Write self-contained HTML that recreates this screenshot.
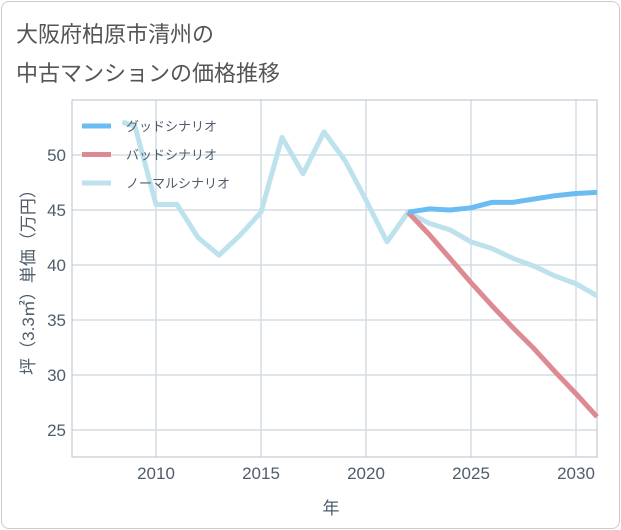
<!DOCTYPE html>
<html><head><meta charset="utf-8"><style>
body{margin:0;background:#fff}
#wrap{position:relative;width:621px;height:530px;overflow:hidden;font-family:"Liberation Sans","Noto Sans CJK JP",sans-serif}
#frame{position:absolute;left:1px;top:1px;width:617px;height:526px;border:1px solid #ccc;border-radius:8px}
.title{position:absolute;left:16px;font-size:22px;color:#555}
</style></head><body>
<div id="wrap">
<div id="frame"></div>
<div class="title" style="top:17px">大阪府柏原市清州の</div>
<div class="title" style="top:56px">中古マンションの価格推移</div>
<svg id="c" width="621" height="530" style="position:absolute;left:0;top:0"></svg>
</div>
<script>
const xTicks=[2010,2015,2020,2025,2030];
const yTicks=[25,30,35,40,45,50];
const normalYears=[2008.4,2009,2010,2011,2012,2013,2014,2015,2016,2017,2018,2019,2020,2021,2022,2023,2024,2025,2026,2027,2028,2029,2030,2031];
const normalVals=[53.0,52.6,45.5,45.5,42.5,40.9,42.7,44.8,51.6,48.3,52.1,49.5,45.9,42.1,44.8,43.8,43.2,42.1,41.5,40.6,39.9,39.0,38.3,37.2];
const futureYears=[2022,2023,2024,2025,2026,2027,2028,2029,2030,2031];
const goodVals=[44.8,45.1,45.0,45.2,45.7,45.7,46.0,46.3,46.5,46.6];
const badVals=[44.8,42.8,40.6,38.4,36.3,34.3,32.4,30.3,28.3,26.2];
const seriesNames=["グッドシナリオ","バッドシナリオ","ノーマルシナリオ"];
const colors=["#6bbcf2","#de8a92","#bde2ee"];
const L=72,R=597,T=100,B=457,X0=2006,X1=2031,Y0=22.55,Y1=55;
const xs=v=>L+(v-X0)/(X1-X0)*(R-L);
const ys=v=>B-(v-Y0)/(Y1-Y0)*(B-T);
const svg=document.getElementById('c');const NS='http://www.w3.org/2000/svg';
function mk(t,a,p){const e=document.createElementNS(NS,t);for(const k in a)e.setAttribute(k,a[k]);(p||svg).appendChild(e);return e;}
const grid=mk('g',{});


xTicks.forEach(t=>{mk('line',{x1:xs(t),x2:xs(t),y1:T,y2:B,stroke:'#d3dde6','stroke-width':1.5},grid);
const tx=mk('text',{x:xs(t),y:B+22,'text-anchor':'middle','font-size':17,fill:'#4f5d6b'});tx.textContent=t;

});
yTicks.forEach(t=>{mk('line',{x1:L,x2:R,y1:ys(t),y2:ys(t),stroke:'#d3dde6','stroke-width':1.5},grid);
const tx=mk('text',{x:L-6,y:ys(t)+6,'text-anchor':'end','font-size':17,fill:'#4f5d6b'});tx.textContent=t;

});
const ax=mk('rect',{x:L,y:T,width:R-L,height:B-T,fill:'none',stroke:'#b8c2cc','stroke-width':1});


function line(yrs,vals,col,name){const p=mk('polyline',{points:yrs.map((y,i)=>xs(y)+','+ys(vals[i])).join(' '),fill:'none',stroke:col,'stroke-width':5,'stroke-linejoin':'round'});

}
line(normalYears,normalVals,colors[2],'normal-scenario-line');
line(futureYears,badVals,colors[1],'bad-scenario-line');
line(futureYears,goodVals,colors[0],'good-scenario-line');
seriesNames.forEach((n,i)=>{const y=126+i*28.5;
const g=mk('g',{});


mk('line',{x1:82,x2:111,y1:y,y2:y,stroke:colors[i],'stroke-width':5},g);
const t=mk('text',{x:126,y:y+5,'font-size':13,fill:'#4f5d6b'},g);t.textContent=n;});
const xt=mk('text',{x:331,y:514,'text-anchor':'middle','font-size':17,fill:'#4f5d6b'});xt.textContent='年';


const yt=mk('text',{x:0,y:0,'text-anchor':'middle','font-size':17,fill:'#4f5d6b',transform:'translate(34,278) rotate(-90)'});yt.textContent='坪（3.3㎡）単価（万円）';


</script>
</body></html>
